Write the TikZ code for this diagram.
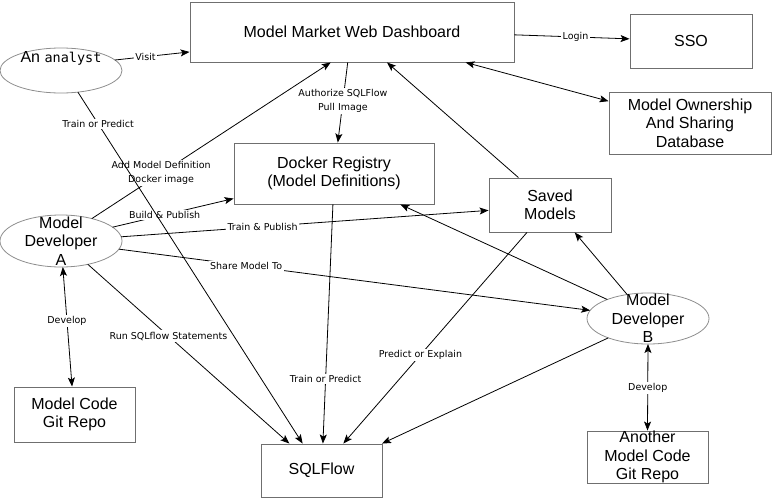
\documentclass[tikz,border=0pt]{standalone}
\usepackage{fontspec}
\setmainfont{Liberation Sans}
\newfontfamily\tagfont{DejaVu Sans}
\newfontfamily\codefont{DejaVu Sans Mono}
\usetikzlibrary{arrows.meta, shapes.geometric}
\definecolor{mmframe}{HTML}{6F6F6F}
\definecolor{mmactor}{HTML}{8E8E8E}

\begin{document}
\begin{tikzpicture}[
  x=1pt, y=-1pt,
  panel/.style={rectangle, draw=mmframe, line width=0.9pt, fill=white, inner sep=0pt, align=center, font=\fontsize{16}{18.5}\selectfont},
  actor/.style={ellipse, draw=mmactor, line width=0.8pt, inner sep=0pt, outer sep=0pt, minimum width=122pt},
  actortext/.style={align=center, inner sep=0pt, font=\fontsize{16}{18.5}\selectfont},
  flow/.style={draw, line width=0.8pt, -{Stealth[length=9pt,width=7pt,inset=2pt]}},
  twoway/.style={flow, {Stealth[length=9pt,width=7pt,inset=2pt]}-{Stealth[length=9pt,width=7pt,inset=2pt]}},
  tag/.style={fill=white, inner sep=1.5pt, align=center, font=\tagfont\fontsize{9.5}{14}\selectfont}
]
  \useasboundingbox (0,0) rectangle (772,498);

  % boxes
  \node[panel, minimum width=324pt, minimum height=60pt] (dash) at (352,32) {Model Market Web Dashboard};
  \node[panel, minimum width=122pt, minimum height=54pt] (sso) at (691,41) {SSO};
  \node[panel, minimum width=162pt, minimum height=62pt] (owndb) at (690,123) {Model Ownership\\And Sharing\\Database};
  \node[panel, minimum width=200pt, minimum height=61pt] (registry) at (334,173.5) {Docker Registry\\(Model Definitions)};
  \node[panel, minimum width=122pt, minimum height=54pt] (saved) at (550,205) {Saved\\Models};
  \node[panel, minimum width=121pt, minimum height=55pt] (repoa) at (74.5,414.5) {Model Code\\Git Repo};
  \node[panel, minimum width=121pt, minimum height=53pt] (sqlflow) at (321.5,470.5) {SQLFlow};
  \node[panel, minimum width=121pt, minimum height=52pt] (repob) at (647.5,457) {Another\\Model Code\\Git Repo};

  % people
  \node[actor, minimum height=45pt, label={[actortext, yshift=12.5pt]center:An {\codefont\fontsize{13.5}{16}\selectfont analyst}}] (analyst) at (61,70.5) {};
  \node[actor, minimum height=52pt, label={[actortext]center:Model\\Developer\\A}] (deva) at (61,241) {};
  \node[actor, minimum height=51pt, label={[actortext]center:Model\\Developer\\B}] (devb) at (648,318.5) {};

  % connectors
  \draw[flow] (analyst.11) -- node[tag, pos=0.41] {Visit} (dash.187);
  \draw[flow] (dash.-1) -- node[tag, pos=0.53] {Login} (sso.178);
  \draw[twoway] (dash.-15) -- (owndb.165);
  \draw[flow] (deva.36) -- node[tag, pos=0.29] {Add Model Definition\\Docker image} (dash.235);
  \draw[flow] (deva.15) -- node[tag, pos=0.43] {Build \& Publish} (registry.194);
  \draw[flow] (deva.4) -- node[tag, pos=0.385] {Train \& Publish} (saved.185);
  \draw[flow] (deva.-8) -- node[tag, pos=0.27] {Share Model To} (devb.172);
  \draw[flow] (deva.-41) -- node[tag, pos=0.4] {Run SQLflow Statements} (sqlflow.140);
  \draw[twoway] (deva.-86) -- node[tag, pos=0.45] {Develop} (repoa.95);
  \draw[flow] (dash.-98) -- node[tag, pos=0.48] {Authorize SQLFlow\\Pull Image} (registry.83);
  \draw[flow] (registry.-92) -- node[tag, pos=0.73] {Train or Predict} (sqlflow.87);
  \draw[flow] (saved.139) -- (dash.-41);
  \draw[flow] (devb.131) -- (saved.-48);
  \draw[flow] (devb.155) -- (registry.-25);
  \draw[flow] (saved.230) -- node[tag, pos=0.58] {Predict or Explain} (sqlflow.51);
  \draw[flow] (devb.206) -- (sqlflow.24);
  \draw[twoway] (devb.south) -- node[tag, pos=0.51] {Develop} (repob.north);
  \draw[flow] (analyst.-52) -- node[tag, pos=0.09] {Train or Predict} (sqlflow.125);
\end{tikzpicture}
\end{document}
